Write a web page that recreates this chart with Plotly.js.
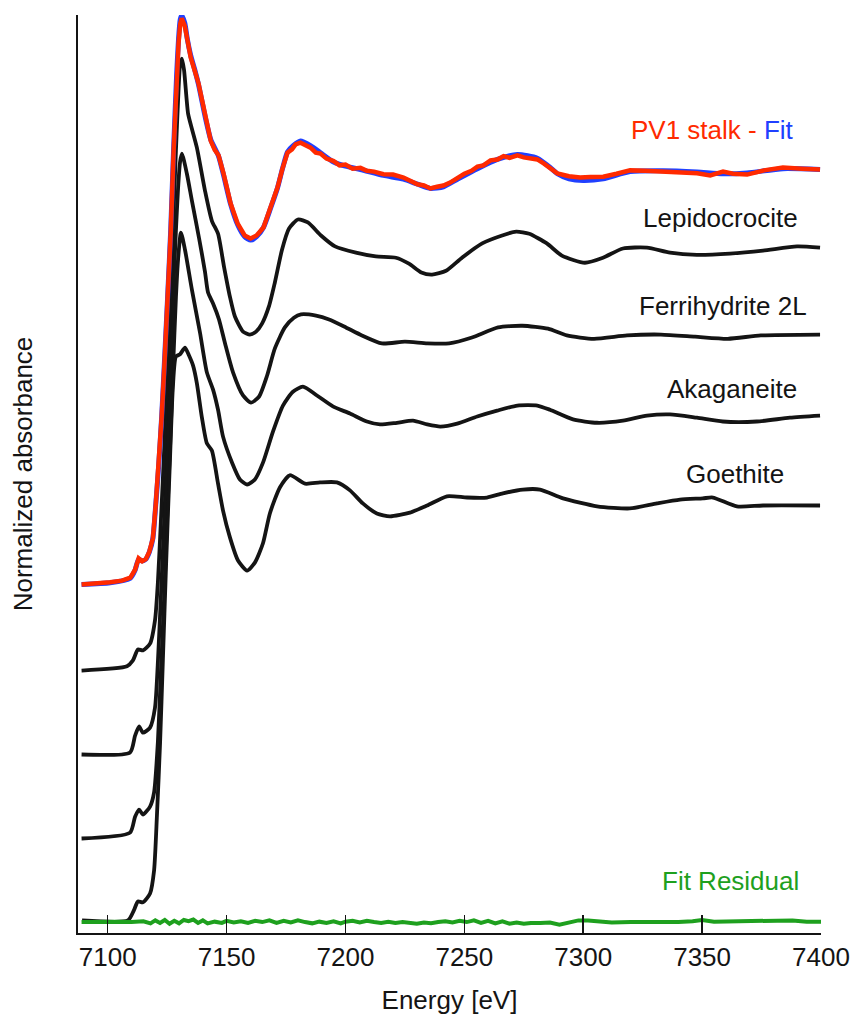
<!DOCTYPE html>
<html>
<head>
<meta charset="utf-8">
<script src="https://cdn.plot.ly/plotly-3.0.1.min.js"></script>
<style>html,body{margin:0;padding:0;background:#fff;}#chart{width:854px;height:1021px;}</style>
</head>
<body>
<div id="chart"></div>
<script>
// Energy axis ticks
const xTicks = [7100, 7150, 7200, 7250, 7300, 7350, 7400];

// Vertical offsets of the stacked spectra (normalized units)
const offsetSample = 0.83;
const offsetLepidocrocite = 0.625;
const offsetFerrihydrite = 0.425;
const offsetAkaganeite = 0.225;
const offsetGoethite = 0.03;
const offsetResidual = 0.026;

// PV1 stalk (measured)
const energySample = [7089, 7095, 7101, 7106, 7109.5, 7111.5, 7113, 7114.5, 7116, 7117.5, 7119, 7120.2, 7121.4, 7122.7, 7123.9, 7125.2, 7126.5, 7127.7, 7129, 7129.8, 7130.5, 7131.1, 7132.4, 7133.5, 7134.9, 7136.5, 7138.2, 7139.8, 7141.2, 7143.3, 7145, 7146.6, 7148.7, 7151.7, 7154.6, 7157.6, 7160.1, 7162.6, 7165.5, 7168.5, 7171.4, 7173.5, 7175.6, 7177.5, 7179, 7181.1, 7183, 7185.3, 7187.5, 7189.5, 7192, 7195, 7197.5, 7200, 7203, 7206.3, 7209, 7212, 7216, 7220, 7224.4, 7227.5, 7230.3, 7233, 7235.7, 7238.5, 7241.2, 7244, 7247.1, 7250, 7253, 7255.5, 7258, 7261, 7263.9, 7266.5, 7269, 7272.3, 7275, 7278, 7280.7, 7283.5, 7286.1, 7289.1, 7294, 7298.7, 7303, 7308.4, 7314, 7319.7, 7326, 7333.6, 7340, 7347.9, 7353.4, 7358.8, 7363, 7368.9, 7376, 7384, 7392, 7399.6];
const muSample = [0, 0.002, 0.005, 0.009, 0.016, 0.035, 0.062, 0.055, 0.060, 0.078, 0.11, 0.19, 0.28, 0.40, 0.53, 0.68, 0.84, 1.03, 1.21, 1.29, 1.335, 1.348, 1.33, 1.29, 1.255, 1.225, 1.193, 1.15, 1.112, 1.057, 1.035, 1.022, 0.979, 0.907, 0.86, 0.831, 0.824, 0.831, 0.85, 0.898, 0.945, 0.99, 1.028, 1.036, 1.048, 1.052, 1.047, 1.040, 1.028, 1.026, 1.014, 1.008, 0.998, 1.0, 0.99, 0.992, 0.985, 0.983, 0.977, 0.976, 0.969, 0.962, 0.953, 0.95, 0.943, 0.947, 0.95, 0.957, 0.969, 0.978, 0.985, 0.995, 0.998, 1.01, 1.012, 1.02, 1.016, 1.022, 1.017, 1.015, 1.012, 1.002, 0.99, 0.979, 0.972, 0.969, 0.97, 0.971, 0.978, 0.986, 0.985, 0.983, 0.981, 0.979, 0.974, 0.983, 0.978, 0.976, 0.986, 0.993, 0.99, 0.988];

// Linear-combination fit
const energyFit = [7089, 7101, 7109.5, 7111.5, 7113, 7114.5, 7116, 7117.5, 7119, 7120.2, 7121.4, 7122.7, 7123.9, 7125.2, 7126.5, 7127.7, 7129, 7129.8, 7130.5, 7131.1, 7132.4, 7133.5, 7134.9, 7136.5, 7138.2, 7141.2, 7143.3, 7146.6, 7148.7, 7151.7, 7154.6, 7157.6, 7160.1, 7162.6, 7165.5, 7168.5, 7171.4, 7173.5, 7175.6, 7178, 7181.1, 7185.3, 7189.5, 7195, 7200, 7206.3, 7216, 7224.4, 7230.3, 7235.7, 7241.2, 7247.1, 7255.5, 7263.9, 7272.3, 7280.7, 7286.1, 7289.1, 7294, 7300, 7308.4, 7319.7, 7333.6, 7347.9, 7358.8, 7368.9, 7384, 7399.6];
const muFit = [0, 0.004, 0.015, 0.034, 0.06, 0.056, 0.06, 0.077, 0.11, 0.19, 0.28, 0.40, 0.535, 0.685, 0.845, 1.035, 1.215, 1.30, 1.345, 1.355, 1.337, 1.298, 1.26, 1.228, 1.19, 1.108, 1.06, 1.02, 0.975, 0.905, 0.857, 0.828, 0.82, 0.828, 0.85, 0.896, 0.944, 0.99, 1.03, 1.045, 1.056, 1.045, 1.028, 1.006, 0.996, 0.988, 0.974, 0.965, 0.953, 0.943, 0.947, 0.965, 0.99, 1.012, 1.024, 1.015, 0.993, 0.978, 0.966, 0.962, 0.966, 0.983, 0.985, 0.982, 0.978, 0.98, 0.99, 0.988];

// Lepidocrocite reference
const energyLepidocrocite = [7089, 7108.1, 7110.6, 7112.7, 7114.8, 7117.8, 7119.9, 7121.1, 7122.4, 7123.7, 7124.9, 7126.2, 7127.4, 7128.7, 7129.6, 7130.4, 7131.2, 7132.1, 7133.8, 7135.4, 7137.5, 7140.9, 7143.8, 7146.4, 7148.9, 7151.4, 7153.5, 7156.9, 7159.8, 7162.4, 7164.9, 7167.8, 7170.3, 7173.3, 7176.2, 7180.0, 7184.2, 7189.7, 7195.6, 7204.4, 7212.8, 7221.2, 7226.7, 7231.9, 7236.4, 7242.3, 7249.0, 7257.5, 7265.9, 7271.8, 7277.3, 7284.7, 7291.0, 7300.7, 7308.3, 7316.7, 7326.8, 7336.5, 7347.8, 7361.7, 7375.6, 7389.9, 7399.6];
const muLepidocrocite = [0, 0.01, 0.024, 0.05, 0.048, 0.064, 0.12, 0.21, 0.36, 0.52, 0.69, 0.87, 1.05, 1.24, 1.36, 1.44, 1.457, 1.43, 1.326, 1.29, 1.245, 1.143, 1.071, 1.04, 0.962, 0.89, 0.843, 0.807, 0.8, 0.807, 0.826, 0.867, 0.924, 1.002, 1.052, 1.074, 1.067, 1.036, 1.01, 0.995, 0.986, 0.983, 0.969, 0.948, 0.943, 0.952, 0.983, 1.017, 1.036, 1.045, 1.04, 1.017, 0.988, 0.971, 0.983, 1.005, 1.007, 0.995, 0.99, 0.993, 1.0, 1.01, 1.007];

// Ferrihydrite 2L reference
const energyFerrihydrite = [7089, 7109.4, 7111.5, 7113.2, 7114.8, 7117.8, 7119.9, 7121.1, 7122.4, 7123.7, 7124.9, 7126.2, 7127.4, 7128.7, 7129.6, 7130.4, 7131.2, 7133.3, 7135.4, 7138.4, 7140.9, 7142.2, 7144.3, 7146.8, 7149.3, 7152.7, 7156.9, 7160.3, 7163.6, 7167.0, 7170.3, 7174.5, 7178.3, 7181.3, 7187.6, 7193.1, 7200.2, 7206.9, 7215.3, 7225.0, 7234.4, 7243.6, 7253.2, 7264.2, 7274.4, 7285.2, 7293.1, 7304.5, 7318.4, 7332.7, 7347.0, 7360.8, 7374.7, 7399.6];
const muFerrihydrite = [0, 0.005, 0.045, 0.067, 0.052, 0.064, 0.112, 0.22, 0.38, 0.55, 0.72, 0.90, 1.08, 1.25, 1.35, 1.41, 1.431, 1.383, 1.319, 1.23, 1.15, 1.10, 1.074, 1.036, 0.98, 0.91, 0.855, 0.838, 0.852, 0.902, 0.967, 1.017, 1.04, 1.048, 1.045, 1.036, 1.017, 0.998, 0.979, 0.983, 0.979, 0.979, 0.993, 1.017, 1.021, 1.014, 0.998, 0.99, 0.998, 1.0, 0.995, 0.99, 0.998, 1.0];

// Akaganeite reference
const energyAkaganeite = [7089, 7109.4, 7111.5, 7113.2, 7114.8, 7117.8, 7119.5, 7121.1, 7122.4, 7123.7, 7124.9, 7126.2, 7127.4, 7128.7, 7129.6, 7130.8, 7132.5, 7135.4, 7138.8, 7141.7, 7144.3, 7146.4, 7148.5, 7152.3, 7155.6, 7158.6, 7161.9, 7165.3, 7169.5, 7173.7, 7177.9, 7182.1, 7188.0, 7194.7, 7201.9, 7209.0, 7214.5, 7221.6, 7228.4, 7234.4, 7239.9, 7247.0, 7255.4, 7263.8, 7272.3, 7280.7, 7286.0, 7295.7, 7305.8, 7316.7, 7326.8, 7336.5, 7347.8, 7358.7, 7373.0, 7386.9, 7399.6];
const muAkaganeite = [0, 0.014, 0.052, 0.069, 0.057, 0.076, 0.11, 0.23, 0.40, 0.57, 0.75, 0.93, 1.11, 1.29, 1.38, 1.443, 1.402, 1.307, 1.205, 1.11, 1.069, 1.021, 0.957, 0.895, 0.855, 0.843, 0.855, 0.895, 0.969, 1.031, 1.064, 1.076, 1.055, 1.029, 1.012, 0.993, 0.986, 0.99, 0.995, 0.986, 0.981, 0.988, 1.005, 1.019, 1.031, 1.031, 1.021, 0.998, 0.99, 0.995, 1.007, 1.01, 1.002, 0.993, 0.993, 1.002, 1.007];

// Goethite reference
const energyGoethite = [7089.2, 7108.5, 7111.0, 7112.7, 7114.8, 7117.8, 7119.5, 7120.7, 7122.0, 7123.2, 7124.5, 7126.2, 7127.4, 7128.7, 7130.4, 7132.5, 7134.2, 7135.9, 7137.5, 7139.6, 7141.7, 7143.8, 7146.4, 7148.5, 7151.4, 7154.8, 7158.6, 7161.9, 7165.3, 7168.2, 7172.4, 7176.6, 7183.0, 7189.3, 7196.4, 7201.9, 7207.3, 7213.2, 7218.7, 7227.1, 7234.3, 7242.7, 7251.1, 7259.5, 7266.2, 7274.6, 7281.8, 7291.5, 7305.8, 7319.6, 7331.0, 7340.7, 7350.3, 7354.5, 7364.6, 7375.6, 7399.6];
const muGoethite = [0, 0, 0.024, 0.045, 0.043, 0.064, 0.119, 0.25, 0.42, 0.62, 0.84, 1.10, 1.27, 1.343, 1.348, 1.364, 1.345, 1.321, 1.279, 1.198, 1.136, 1.119, 1.04, 0.976, 0.912, 0.857, 0.833, 0.852, 0.898, 0.969, 1.031, 1.06, 1.04, 1.043, 1.043, 1.024, 0.993, 0.969, 0.962, 0.971, 0.988, 1.01, 1.007, 1.007, 1.017, 1.026, 1.026, 1.005, 0.986, 0.981, 0.993, 1.002, 1.005, 1.007, 0.986, 0.988, 0.988];

// Fit residual
const energyResidual = [7089, 7095, 7100, 7105, 7110, 7115, 7118, 7120, 7122, 7124, 7126, 7128, 7130, 7132, 7134, 7136, 7138, 7140, 7142, 7145, 7148, 7150, 7153, 7156, 7159, 7162, 7165, 7168, 7171, 7174, 7177, 7180, 7183, 7186, 7189, 7192, 7195, 7198, 7200, 7203, 7206, 7209, 7212, 7215, 7218, 7221, 7224, 7227, 7230, 7233, 7236, 7239, 7242, 7245, 7248, 7251, 7254, 7257, 7260, 7263, 7266, 7269, 7272, 7275, 7278, 7282, 7286, 7290, 7294, 7298, 7302, 7306, 7312, 7320, 7330, 7340, 7346, 7350, 7355, 7362, 7368, 7375, 7382, 7388, 7394, 7400];
const residual = [0, 0.001, 0, 0.001, 0, 0.002, -0.003, 0.004, -0.002, 0.005, -0.004, 0.003, -0.003, 0.005, 0.002, 0.006, -0.002, 0.004, -0.003, 0.001, -0.002, 0.003, -0.001, 0.002, -0.002, 0.003, 0, 0.004, -0.002, 0.003, -0.001, 0.004, 0, -0.003, 0.001, -0.002, 0.002, -0.003, 0.001, 0.003, -0.001, 0.003, 0, -0.002, 0.001, -0.002, 0, -0.003, -0.004, -0.001, -0.003, 0, 0.002, -0.001, 0.003, 0, 0.004, -0.002, 0.003, -0.003, 0.002, -0.004, -0.001, -0.004, -0.002, -0.002, -0.001, -0.006, 0, 0.004, 0.004, 0.002, -0.001, 0, -0.001, 0, 0.002, 0.005, 0.001, 0.002, 0.003, 0.004, 0.005, 0.004, 0.001, 0.001];

const shift = (arr, off) => arr.map(v => v + off);

const black = '#141414';
const red = '#ff2a00';
const blue = '#2040ff';
const green = '#1ea01e';
const fontFamily = 'Liberation Sans, Arial, sans-serif';

const blackLine = {color: black, width: 3.8, shape: 'spline', smoothing: 0.6};

const traces = [
  {x: energyGoethite, y: shift(muGoethite, offsetGoethite), mode: 'lines', line: blackLine, name: 'Goethite'},
  {x: energyAkaganeite, y: shift(muAkaganeite, offsetAkaganeite), mode: 'lines', line: blackLine, name: 'Akaganeite'},
  {x: energyFerrihydrite, y: shift(muFerrihydrite, offsetFerrihydrite), mode: 'lines', line: blackLine, name: 'Ferrihydrite 2L'},
  {x: energyLepidocrocite, y: shift(muLepidocrocite, offsetLepidocrocite), mode: 'lines', line: blackLine, name: 'Lepidocrocite'},
  {x: energyFit, y: shift(muFit, offsetSample), mode: 'lines', line: {color: blue, width: 5, shape: 'spline', smoothing: 0.6}, name: 'Fit'},
  {x: energySample, y: shift(muSample, offsetSample), mode: 'lines', line: {color: red, width: 4.5}, name: 'PV1 stalk'},
  {x: energyResidual, y: shift(residual, offsetResidual), mode: 'lines', line: {color: green, width: 4}, name: 'Fit Residual'}
];

const W = 854, H = 1021;
const m = {l: 78, r: 33, t: 15, b: 88};
const pw = W - m.l - m.r, ph = H - m.t - m.b;
const px = v => (v - m.l) / pw;
const py = v => (H - m.b - v) / ph;

const labelFont = {family: fontFamily, size: 26, color: black};
const annotations = [
  {text: '<span style="color:' + red + '">PV1 stalk - </span><span style="color:' + blue + '">Fit</span>', x: px(712), y: py(130)},
  {text: 'Lepidocrocite', x: px(720), y: py(218)},
  {text: 'Ferrihydrite 2L', x: px(723), y: py(306)},
  {text: 'Akaganeite', x: px(732), y: py(389)},
  {text: 'Goethite', x: px(735), y: py(474)},
  {text: 'Fit Residual', x: px(730), y: py(881), font: {family: fontFamily, size: 26, color: green}}
].map(a => Object.assign({xref: 'paper', yref: 'paper', showarrow: false, xanchor: 'center', yanchor: 'middle', font: labelFont}, a));

const layout = {
  width: W, height: H,
  margin: m,
  paper_bgcolor: '#fff', plot_bgcolor: '#fff',
  showlegend: false,
  font: {family: fontFamily, size: 26, color: black},
  xaxis: {
    range: [7087.5, 7400],
    tickvals: xTicks,
    ticktext: xTicks.map(String),
    ticks: 'inside', ticklen: 18, tickwidth: 1.5, tickcolor: black,
    showline: true, linewidth: 2, linecolor: black,
    showgrid: false, zeroline: false,
    tickfont: {family: fontFamily, size: 26, color: black},
    title: {text: 'Energy [eV]', font: {family: fontFamily, size: 26, color: black}, standoff: 20}
  },
  yaxis: {
    range: [0, 2.186],
    showticklabels: false, ticks: '',
    showline: true, linewidth: 2, linecolor: black,
    showgrid: false, zeroline: false,
    title: {text: 'Normalized absorbance', font: {family: fontFamily, size: 26, color: black}, standoff: 36}
  },
  annotations: annotations
};

Plotly.newPlot('chart', traces, layout, {displayModeBar: false, staticPlot: true});
</script>
</body>
</html>
